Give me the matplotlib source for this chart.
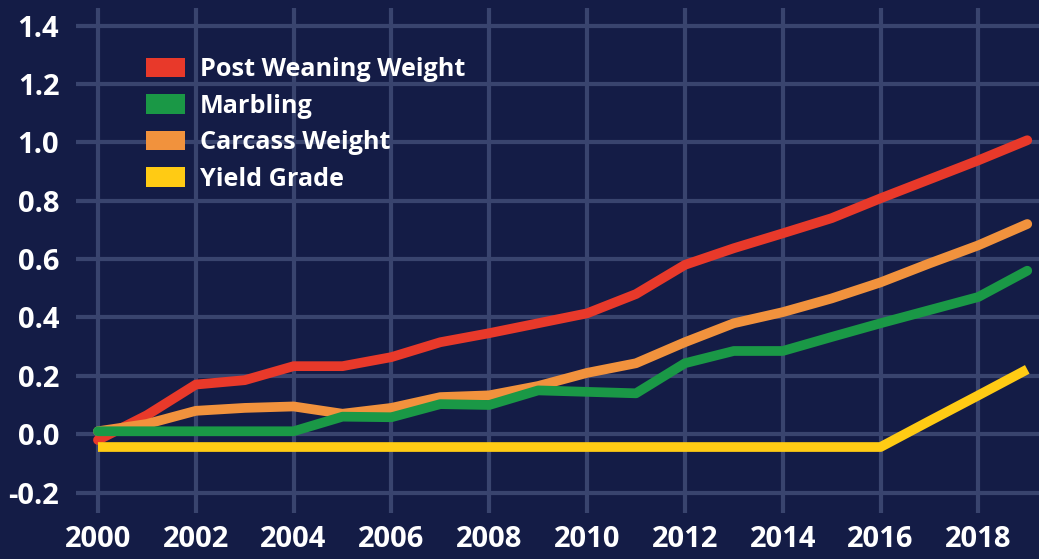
import matplotlib
matplotlib.use("Agg")
import matplotlib.pyplot as plt
from matplotlib.patches import Patch

# Data
years = list(range(2000, 2020))
post_weaning = [-0.02, 0.065, 0.17, 0.185, 0.233, 0.233, 0.264, 0.315, 0.346, 0.38,
                0.414, 0.48, 0.58, 0.637, 0.688, 0.74, 0.808, 0.873, 0.938, 1.007]
marbling = [0.01, 0.01, 0.01, 0.01, 0.01, 0.06, 0.058, 0.103, 0.1, 0.15,
            0.145, 0.14, 0.243, 0.285, 0.285, 0.333, 0.38, 0.425, 0.47, 0.56]
carcass = [0.01, 0.035, 0.08, 0.09, 0.095, 0.07, 0.09, 0.127, 0.133, 0.165,
           0.21, 0.243, 0.315, 0.38, 0.418, 0.465, 0.52, 0.585, 0.647, 0.72]
yield_grade = [-0.044] * 17 + [0.045, 0.133, 0.222]

series_names = ["Post Weaning Weight", "Marbling", "Carcass Weight", "Yield Grade"]
x_ticks = list(range(2000, 2019, 2))
y_ticks = [-0.2, 0.0, 0.2, 0.4, 0.6, 0.8, 1.0, 1.2, 1.4]

BG = "#141c46"
GRID = "#39446e"
RED = "#e8392a"
GREEN = "#1a9846"
ORANGE = "#f1923d"
YELLOW = "#ffcb14"

plt.rcParams["font.family"] = ["Open Sans", "DejaVu Sans"]
plt.rcParams["font.weight"] = "bold"

fig = plt.figure(figsize=(10.39, 5.59), dpi=100, facecolor=BG)
ax = fig.add_axes([0.0731, 0.0823, 0.9269, 0.9034])
ax.set_facecolor(BG)

lw = 7
ax.plot(years, post_weaning, color=RED, lw=lw, solid_capstyle="round", solid_joinstyle="round", zorder=3)
ax.plot(years, carcass, color=ORANGE, lw=lw, solid_capstyle="round", solid_joinstyle="round", zorder=4)
ax.plot(years, marbling, color=GREEN, lw=lw, solid_capstyle="round", solid_joinstyle="round", zorder=5)
ax.plot(years, yield_grade, color=YELLOW, lw=lw, solid_capstyle="butt", solid_joinstyle="round", zorder=6)

ax.set_xlim(1999.55, 2019.24)
ax.set_ylim(-0.27, 1.46)
ax.set_xticks(x_ticks)
ax.set_yticks(y_ticks)
ax.set_yticklabels([f"{v:.1f}" for v in y_ticks])
ax.tick_params(length=0, colors="white", labelsize=21)
ax.tick_params(axis="x", pad=9)
ax.tick_params(axis="y", pad=12)
for lab in ax.get_xticklabels() + ax.get_yticklabels():
    lab.set_fontweight("bold")

ax.grid(True, color=GRID, lw=3)
ax.set_axisbelow(True)
for s in ax.spines.values():
    s.set_visible(False)

handles = [Patch(facecolor=c, edgecolor="none") for c in (RED, GREEN, ORANGE, YELLOW)]
leg = ax.legend(handles, series_names, loc="upper left", bbox_to_anchor=(0.062, 0.922),
                frameon=False, fontsize=18.2, handlelength=1.55, handleheight=0.8,
                handletextpad=0.6, labelspacing=0.45, borderaxespad=0)
for t in leg.get_texts():
    t.set_color("white")
    t.set_fontweight("bold")

fig.savefig("out.png", dpi=100, facecolor=BG)
